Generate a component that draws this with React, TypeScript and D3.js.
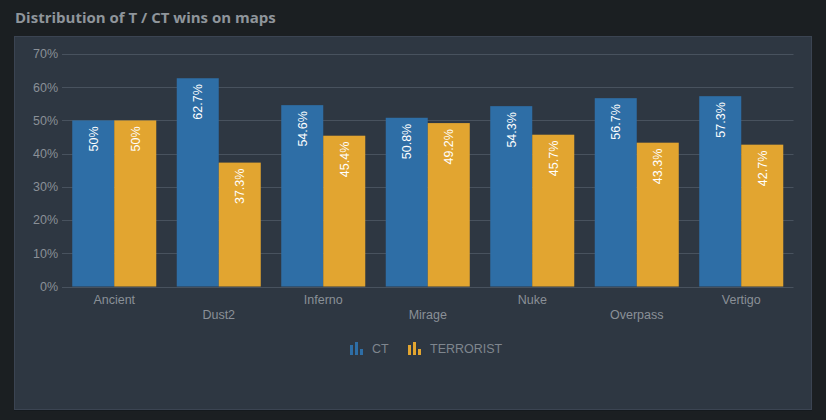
import React from "react";
import * as d3 from "d3";

const categories = ["Ancient", "Dust2", "Inferno", "Mirage", "Nuke", "Overpass", "Vertigo"];
const ctValues = [50, 62.7, 54.6, 50.8, 54.3, 56.7, 57.3];
const tValues = [50, 37.3, 45.4, 49.2, 45.7, 43.3, 42.7];
const seriesNames = ["CT", "TERRORIST"];
const seriesColors = ["#2e6ea6", "#e2a530"];
const yTicks = [0, 10, 20, 30, 40, 50, 60, 70];

const W = 826;
const H = 420;
const left = 62;
const right = 793.5;
const top = 54;
const bottom = 286.5;

export default function App() {
  const x = d3.scaleBand<string>().domain(categories).range([left, right]).paddingInner(0).paddingOuter(0);
  const y = d3.scaleLinear().domain([0, 70]).range([bottom, top]);
  const pad = x.bandwidth() * 0.098;
  const inner = d3.scaleBand<number>().domain([0, 1]).range([pad, x.bandwidth() - pad]).padding(0);
  const series = [ctValues, tValues];
  const fmt = (v: number) => `${v}%`;

  return (
    <div style={{ position: "fixed", left: 0, top: 0, width: W, height: H, background: "#1b1f22" }}>
      <svg width={W} height={H} style={{ display: "block" }}>
        <rect x={0} y={0} width={W} height={H} fill="#1b1f22" />
        <text x={15} y={23} fill="#8f959b" fontFamily="'Open Sans', sans-serif" fontWeight={700} fontSize={15}>
          Distribution of T / CT wins on maps
        </text>
        <rect x={14.5} y={36.5} width={797} height={373} fill="#2e3742" stroke="#3b4452" strokeWidth={1} />
        <line x1={14} x2={812} y1={410.5} y2={410.5} stroke="#151a1e" strokeWidth={1} />
        {yTicks.map((t) => (
          <g key={t}>
            <line x1={left} x2={right} y1={Math.round(y(t)) + 0.5} y2={Math.round(y(t)) + 0.5} stroke="#48525e" strokeWidth={1} />
            <text x={58} y={y(t)} dy="0.35em" textAnchor="end" fill="#8a9097" fontFamily="'Liberation Sans', Arial, sans-serif" fontSize={12.5}>
              {t}%
            </text>
          </g>
        ))}
        {categories.map((c, i) => (
          <g key={c}>
            {series.map((vals, s) => {
              const bx = (x(c) as number) + (inner(s) as number);
              const bw = inner.bandwidth();
              const by = y(vals[i]);
              const cx = bx + bw / 2;
              return (
                <g key={s}>
                  <rect x={bx} y={by} width={bw} height={bottom - by} fill={seriesColors[s]} />
                  <text
                    transform={`translate(${cx},${by + 6}) rotate(-90)`}
                    textAnchor="end"
                    dy="0.35em"
                    fill="#ffffff"
                    fontFamily="'Liberation Sans', Arial, sans-serif"
                    fontSize={12.5}
                  >
                    {fmt(vals[i])}
                  </text>
                </g>
              );
            })}
            <text
              x={(x(c) as number) + x.bandwidth() / 2}
              y={i % 2 === 0 ? 303.5 : 318.5}
              textAnchor="middle"
              fill="#8a9097"
              fontFamily="'Liberation Sans', Arial, sans-serif"
              fontSize={12.5}
            >
              {c}
            </text>
          </g>
        ))}
        {seriesNames.map((n, s) => {
          const lx = s === 0 ? 350 : 408;
          return (
            <g key={n}>
              <rect x={lx} y={345} width={3} height={10} fill={seriesColors[s]} />
              <rect x={lx + 5} y={342} width={3} height={13} fill={seriesColors[s]} />
              <rect x={lx + 10} y={349} width={3} height={6} fill={seriesColors[s]} />
              <text x={lx + 22} y={349} dy="0.35em" fill="#7f868e" fontFamily="'Liberation Sans', Arial, sans-serif" fontSize={12.5}>
                {n}
              </text>
            </g>
          );
        })}
      </svg>
    </div>
  );
}
